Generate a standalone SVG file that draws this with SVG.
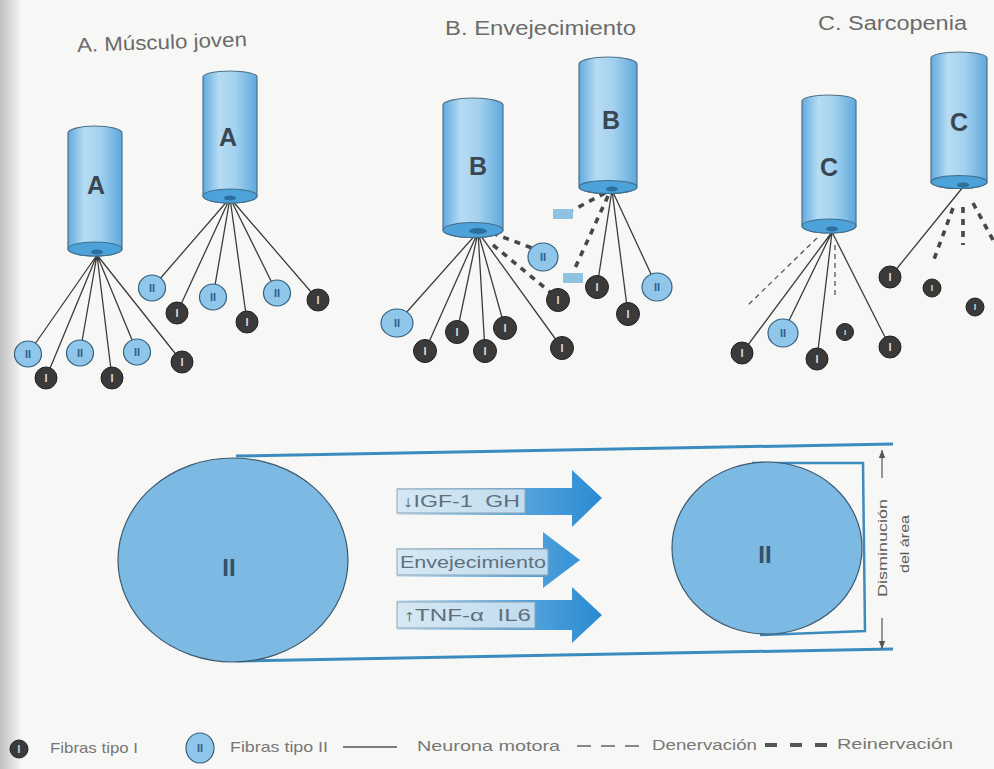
<svg xmlns="http://www.w3.org/2000/svg" width="994" height="769" viewBox="0 0 994 769">
  <style>
    .title { font-family: "Liberation Sans", Arial, sans-serif; font-size: 20px; fill: #6b6b6b; }
    .cyl-body { fill: url(#cylGrad); stroke: #4d7189; stroke-width: 1.2; }
    .cyl-face { fill: #4da2d9; stroke: #3f6f8f; stroke-width: 1.1; }
    .cyl-core { fill: #2c6e9c; }
    .cyl-label { font-family: "Liberation Sans", Arial, sans-serif; font-weight: bold; font-size: 25px; fill: #3a4752; text-anchor: middle; }
    .f1 { fill: #3a3a3a; stroke: #222; stroke-width: 1; }
    .t1 { font-family: "Liberation Sans", Arial, sans-serif; font-weight: bold; font-size: 11px; fill: #d9d9d9; text-anchor: middle; }
    .f2 { fill: #90c6ea; stroke: #33607f; stroke-width: 1.2; }
    .t2 { font-family: "Liberation Sans", Arial, sans-serif; font-weight: bold; font-size: 11px; fill: #2f5f86; text-anchor: middle; }
    .nerve { stroke: #3c3c3c; stroke-width: 1.3; fill: none; }
    .dener { stroke: #555; stroke-width: 1.3; fill: none; stroke-dasharray: 5 4; }
    .reiner { stroke: #474747; stroke-width: 3.6; fill: none; stroke-dasharray: 6 6; }
    .stub { fill: #8fc1e0; }
    .band { stroke: #3a8cbf; stroke-width: 3; fill: none; }
    .bracket { stroke: #3a8cbf; stroke-width: 2.5; fill: none; }
    .cell { fill: #7cb9e3; stroke: #3d5a6e; stroke-width: 1.2; }
    .cell-label { font-family: "Liberation Sans", Arial, sans-serif; font-weight: bold; font-size: 24px; fill: #34506a; text-anchor: middle; }
    .tag { fill: #d6e7f2; fill-opacity: 0.85; stroke: #8aa3b5; stroke-width: 1; }
    .tag-text { font-family: "Liberation Sans", Arial, sans-serif; font-size: 16px; fill: #5f6f7d; }
    .dim { stroke: #555; stroke-width: 1.2; fill: none; }
    .dim-text { font-family: "Liberation Sans", Arial, sans-serif; font-size: 13px; fill: #5a5a5a; text-anchor: middle; }
    .legend { font-family: "Liberation Sans", Arial, sans-serif; font-size: 15px; fill: #777; }
  </style>
  <defs>
    <linearGradient id="cylGrad" x1="0" y1="0" x2="1" y2="0">
      <stop offset="0" stop-color="#62aade"/>
      <stop offset="0.3" stop-color="#b6dcf3"/>
      <stop offset="0.6" stop-color="#a3d1ee"/>
      <stop offset="1" stop-color="#5ea8dc"/>
    </linearGradient>
    <linearGradient id="arrowGrad" gradientUnits="userSpaceOnUse" x1="397" y1="0" x2="600" y2="0">
      <stop offset="0" stop-color="#d4e8f5"/>
      <stop offset="0.55" stop-color="#5fa9dd"/>
      <stop offset="1" stop-color="#2a8bd2"/>
    </linearGradient>
    <linearGradient id="edgeShade" x1="0" y1="0" x2="1" y2="0">
      <stop offset="0" stop-color="#a9a9a9" stop-opacity="0.7"/>
      <stop offset="1" stop-color="#a9a9a9" stop-opacity="0"/>
    </linearGradient>
    <marker id="dimHead" viewBox="0 0 10 10" refX="10" refY="5" markerWidth="7" markerHeight="7" orient="auto-start-reverse">
      <path d="M0,1 L10,5 L0,9 Z" fill="#555"/>
    </marker>
  </defs>

  <!-- page -->
  <rect width="994" height="769" fill="#f7f7f5"/>
  <rect width="22" height="769" fill="url(#edgeShade)"/>

  <!-- section titles -->
  <text class="title" x="77" y="49" textLength="170" lengthAdjust="spacingAndGlyphs" transform="rotate(-2 162 45)">A. Músculo joven</text>
  <text class="title" x="445" y="35" textLength="191" lengthAdjust="spacingAndGlyphs">B. Envejecimiento</text>
  <text class="title" x="818" y="30" textLength="149" lengthAdjust="spacingAndGlyphs">C. Sarcopenia</text>

  <!-- motor nerve connectors -->
  <g id="connectors">
    <!-- A, left unit -->
    <path class="nerve" d="M97,255 L28,354 M97,255 L46,378 M97,255 L80,353 M97,255 L112,378 M97,255 L137,352 M97,255 L182,362"/>
    <!-- A, right unit -->
    <path class="nerve" d="M230,198 L152,288 M230,198 L177,313 M230,198 L213,297 M230,198 L247,322 M230,198 L277,293 M230,198 L318,300"/>
    <!-- B, left unit -->
    <path class="nerve" d="M478,232 L397,323 M478,232 L425,351 M478,232 L457,332 M478,232 L485,351 M478,232 L505,328 M478,232 L562,348"/>
    <path class="reiner" d="M492,233 L532,248 M493,245 L550,292"/>
    <!-- B, right unit -->
    <path class="nerve" d="M612,190 L597,287 M612,190 L628,314 M612,190 L657,287"/>
    <path class="reiner" d="M605,193 L573,210 M608,196 L575,268"/>
    <!-- C, left unit -->
    <path class="nerve" d="M832,232 L742,353 M832,232 L783,333 M832,232 L817,359 M832,232 L890,347"/>
    <path class="dener" d="M835,245 L835,296 M817,238 L748,305"/>
    <!-- C, right unit -->
    <path class="nerve" d="M963,187 L890,277"/>
    <path class="reiner" d="M953,208 L933,262 M963,207 L963,245 M973,203 L993,240"/>
  </g>

  <!-- muscle fibre units -->
  <g id="unit-a1">
    <path class="cyl-body" d="M68,133 A27,7 0 0 1 122,133 V249 A27,7 0 0 1 68,249 Z"/>
    <ellipse class="cyl-face" cx="95" cy="249" rx="27" ry="7"/>
    <ellipse class="cyl-core" cx="97" cy="252" rx="6" ry="2.5"/>
    <text class="cyl-label" x="96" y="194">A</text>
  </g>
  <g id="unit-a2">
    <path class="cyl-body" d="M203,77 A27,6 0 0 1 257,77 V196 A27,7 0 0 1 203,196 Z"/>
    <ellipse class="cyl-face" cx="230" cy="196" rx="27" ry="7"/>
    <ellipse class="cyl-core" cx="230" cy="198" rx="6" ry="2.5"/>
    <text class="cyl-label" x="228" y="146">A</text>
  </g>
  <g id="unit-b1">
    <path class="cyl-body" d="M443,105 A30,7 0 0 1 503,105 V230 A30,7.5 0 0 1 443,230 Z"/>
    <ellipse class="cyl-face" cx="473" cy="230" rx="30" ry="7.5"/>
    <ellipse class="cyl-core" cx="478" cy="231" rx="9" ry="3"/>
    <text class="cyl-label" x="478" y="175">B</text>
  </g>
  <g id="unit-b2">
    <path class="cyl-body" d="M579,64 A29,7 0 0 1 637,64 V187 A29,6.5 0 0 1 579,187 Z"/>
    <ellipse class="cyl-face" cx="608" cy="187" rx="29" ry="6.5"/>
    <ellipse class="cyl-core" cx="612" cy="189" rx="6" ry="2.5"/>
    <text class="cyl-label" x="611" y="129">B</text>
  </g>
  <g id="unit-c1">
    <path class="cyl-body" d="M802,101 A27,6 0 0 1 856,101 V226 A27,7 0 0 1 802,226 Z"/>
    <ellipse class="cyl-face" cx="829" cy="226" rx="27" ry="7"/>
    <ellipse class="cyl-core" cx="832" cy="229" rx="6" ry="2.5"/>
    <text class="cyl-label" x="829" y="176">C</text>
  </g>
  <g id="unit-c2">
    <path class="cyl-body" d="M931,58 A28,6 0 0 1 987,58 V182 A28,6.5 0 0 1 931,182 Z"/>
    <ellipse class="cyl-face" cx="959" cy="182" rx="28" ry="6.5"/>
    <ellipse class="cyl-core" cx="963" cy="185" rx="6" ry="2.5"/>
    <text class="cyl-label" x="959" y="131">C</text>
  </g>

  <!-- fibres: A -->
  <g id="fibres-a">
    <ellipse class="f2" cx="28" cy="354" rx="13.5" ry="13"/><text class="t2" x="28" y="358">II</text>
    <circle class="f1" cx="46" cy="378" r="11"/><text class="t1" x="46" y="382">I</text>
    <ellipse class="f2" cx="80" cy="353" rx="13.5" ry="13"/><text class="t2" x="80" y="357">II</text>
    <circle class="f1" cx="112" cy="378" r="11"/><text class="t1" x="112" y="382">I</text>
    <ellipse class="f2" cx="137" cy="352" rx="13.5" ry="13"/><text class="t2" x="137" y="356">II</text>
    <circle class="f1" cx="182" cy="362" r="11"/><text class="t1" x="182" y="366">I</text>
    <ellipse class="f2" cx="152" cy="288" rx="13.5" ry="13"/><text class="t2" x="152" y="292">II</text>
    <circle class="f1" cx="177" cy="313" r="11"/><text class="t1" x="177" y="317">I</text>
    <ellipse class="f2" cx="213" cy="297" rx="13.5" ry="13"/><text class="t2" x="213" y="301">II</text>
    <circle class="f1" cx="247" cy="322" r="11"/><text class="t1" x="247" y="326">I</text>
    <ellipse class="f2" cx="277" cy="293" rx="13.5" ry="13"/><text class="t2" x="277" y="297">II</text>
    <circle class="f1" cx="318" cy="300" r="11"/><text class="t1" x="318" y="304">I</text>
  </g>

  <!-- fibres: B -->
  <g id="fibres-b">
    <ellipse class="f2" cx="397" cy="323" rx="16" ry="14"/><text class="t2" x="397" y="327">II</text>
    <circle class="f1" cx="425" cy="351" r="11.5"/><text class="t1" x="425" y="355">I</text>
    <circle class="f1" cx="457" cy="332" r="11.5"/><text class="t1" x="457" y="336">I</text>
    <circle class="f1" cx="485" cy="351" r="11.5"/><text class="t1" x="485" y="355">I</text>
    <circle class="f1" cx="505" cy="328" r="11.5"/><text class="t1" x="505" y="332">I</text>
    <circle class="f1" cx="562" cy="348" r="11.5"/><text class="t1" x="562" y="352">I</text>
    <ellipse class="f2" cx="543" cy="257" rx="15" ry="14"/><text class="t2" x="543" y="261">II</text>
    <circle class="f1" cx="558" cy="300" r="11.5"/><text class="t1" x="558" y="304">I</text>
    <rect class="stub" x="553" y="209" width="20" height="10"/>
    <rect class="stub" x="563" y="273" width="20" height="10"/>
    <circle class="f1" cx="597" cy="287" r="11.5"/><text class="t1" x="597" y="291">I</text>
    <circle class="f1" cx="628" cy="314" r="11.5"/><text class="t1" x="628" y="318">I</text>
    <ellipse class="f2" cx="657" cy="287" rx="15" ry="14"/><text class="t2" x="657" y="291">II</text>
  </g>

  <!-- fibres: C -->
  <g id="fibres-c">
    <circle class="f1" cx="742" cy="353" r="11"/><text class="t1" x="742" y="357">I</text>
    <ellipse class="f2" cx="783" cy="333" rx="15" ry="14"/><text class="t2" x="783" y="337">II</text>
    <circle class="f1" cx="817" cy="359" r="11"/><text class="t1" x="817" y="363">I</text>
    <circle class="f1" cx="845" cy="332" r="8.5"/><text class="t1" x="845" y="335" style="font-size:8px">I</text>
    <circle class="f1" cx="890" cy="347" r="11"/><text class="t1" x="890" y="351">I</text>
    <circle class="f1" cx="890" cy="277" r="11"/><text class="t1" x="890" y="281">I</text>
    <circle class="f1" cx="932" cy="288" r="9"/><text class="t1" x="932" y="291" style="font-size:9px">I</text>
    <circle class="f1" cx="975" cy="307" r="9"/><text class="t1" x="975" y="310" style="font-size:9px">I</text>
  </g>

  <!-- cross-section comparison -->
  <g id="fibre-section">
    <path class="band" d="M236,456 L893,444"/>
    <path class="band" d="M236,661 L893,649"/>
    <ellipse class="cell" cx="233" cy="560" rx="115" ry="102"/>
    <text class="cell-label" x="229" y="576">II</text>
  </g>

  <g id="fibre-section-small">
    <path class="bracket" d="M752,463 L863,463 L865,631 L760,635"/>
    <ellipse class="cell" cx="767" cy="548" rx="95" ry="86"/>
    <text class="cell-label" x="765" y="563">II</text>
  </g>

  <g id="area-dimension">
    <path class="dim" d="M882,478 L882,450" marker-end="url(#dimHead)"/>
    <path class="dim" d="M882,618 L882,649" marker-end="url(#dimHead)"/>
    <text class="dim-text" transform="translate(887 548) rotate(-90)" textLength="98" lengthAdjust="spacingAndGlyphs">Disminución</text>
    <text class="dim-text" transform="translate(909 544) rotate(-90)" textLength="58" lengthAdjust="spacingAndGlyphs">del área</text>
  </g>

  <!-- causes -->
  <g id="cause-hormones">
    <path d="M397,488 H572 V470 L602,498 L572,527 V515 H397 Z" fill="url(#arrowGrad)"/>
    <rect class="tag" x="397" y="489" width="128" height="24"/>
    <text class="tag-text" x="402" y="507" textLength="118" lengthAdjust="spacingAndGlyphs">↓IGF-1&#160;&#160;GH</text>
  </g>
  <g id="cause-ageing">
    <path d="M397,548 H543 V532 L580,560 L543,588 V577 H397 Z" fill="url(#arrowGrad)"/>
    <rect class="tag" x="397" y="549" width="151" height="26"/>
    <text class="tag-text" x="400" y="568" textLength="146" lengthAdjust="spacingAndGlyphs">Envejecimiento</text>
  </g>
  <g id="cause-cytokines">
    <path d="M397,600 H572 V587 L602,615 L572,643 V630 H397 Z" fill="url(#arrowGrad)"/>
    <rect class="tag" x="397" y="602" width="138" height="26"/>
    <text class="tag-text" x="403" y="621" textLength="128" lengthAdjust="spacingAndGlyphs">↑TNF-α&#160;&#160;IL6</text>
  </g>

  <!-- legend -->
  <g id="legend">
    <circle class="f1" cx="19" cy="749" r="9"/><text class="t1" x="19" y="753" style="font-size:10px">I</text>
    <text class="legend" x="50" y="753" textLength="88" lengthAdjust="spacingAndGlyphs">Fibras tipo I</text>
    <ellipse class="f2" cx="200" cy="748" rx="14" ry="15"/><text class="t2" x="200" y="752">II</text>
    <text class="legend" x="230" y="752" textLength="98" lengthAdjust="spacingAndGlyphs">Fibras tipo II</text>
    <path d="M343,747 H397" style="stroke:#555;stroke-width:1.6"/>
    <text class="legend" x="417" y="751" textLength="143" lengthAdjust="spacingAndGlyphs">Neurona motora</text>
    <path d="M577,746 H647" style="stroke:#666;stroke-width:1.6;stroke-dasharray:14 10"/>
    <text class="legend" x="652" y="750" textLength="105" lengthAdjust="spacingAndGlyphs">Denervación</text>
    <path d="M765,745 H827" style="stroke:#555;stroke-width:4;stroke-dasharray:12 13"/>
    <text class="legend" x="837" y="749" textLength="116" lengthAdjust="spacingAndGlyphs">Reinervación</text>
  </g>
</svg>
